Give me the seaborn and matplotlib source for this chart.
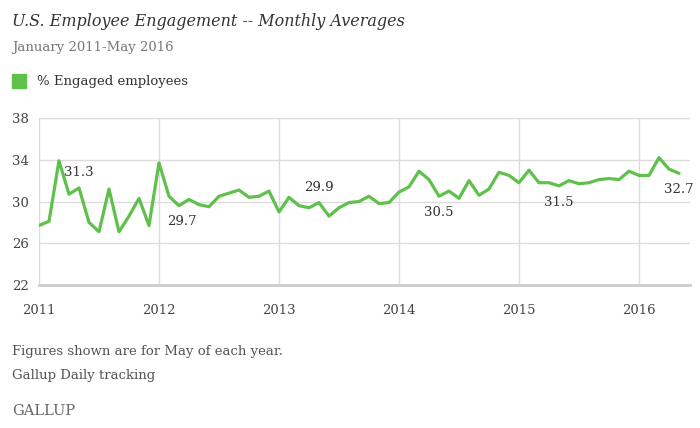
import matplotlib
matplotlib.use("Agg")
import matplotlib.pyplot as plt
import seaborn as sns
import pandas as pd

# ---- data ----
engaged = [
    27.7, 28.1, 33.9, 30.7, 31.3, 28.0, 27.1, 31.2, 27.1, 28.6, 30.3, 27.7,   # 2011
    33.7, 30.5, 29.6, 30.2, 29.7, 29.5, 30.5, 30.8, 31.1, 30.4, 30.5, 31.0,   # 2012
    29.0, 30.4, 29.6, 29.4, 29.9, 28.6, 29.4, 29.9, 30.0, 30.5, 29.8, 29.9,   # 2013
    30.9, 31.4, 32.9, 32.1, 30.5, 31.0, 30.3, 32.0, 30.6, 31.2, 32.8, 32.5,   # 2014
    31.8, 33.0, 31.8, 31.8, 31.5, 32.0, 31.7, 31.8, 32.1, 32.2, 32.1, 32.9,   # 2015
    32.5, 32.5, 34.2, 33.1, 32.7,                                             # 2016
]
month_index = list(range(len(engaged)))
year_labels = ["2011", "2012", "2013", "2014", "2015", "2016"]
year_positions = [0, 12, 24, 36, 48, 60]
y_ticks = [22, 26, 30, 34, 38]
may_labels = ["31.3", "29.7", "29.9", "30.5", "31.5", "32.7"]
may_index = [4, 16, 28, 40, 52, 64]

df = pd.DataFrame({"month": month_index, "engaged": engaged})

GREEN = "#5fc04c"
GRID = "#dcdcdc"

sns.set_theme(style="white")
plt.rcParams["font.family"] = ["DejaVu Serif"]

fig = plt.figure(figsize=(7.0, 4.28), dpi=100)
ax = fig.add_axes([0.0557, 0.3341, 0.9300, 0.3902])

sns.lineplot(data=df, x="month", y="engaged", ax=ax, color=GREEN,
             linewidth=2.3, legend=False)

ax.set_xlim(0, 65.1)
ax.set_ylim(22, 38)
ax.set_yticks(y_ticks)
ax.set_xticks(year_positions)
ax.set_xticklabels(year_labels)
ax.set_xlabel("")
ax.set_ylabel("")
ax.grid(True, color=GRID, linewidth=1.0)
ax.set_axisbelow(True)
for s in ["top", "right", "left"]:
    ax.spines[s].set_visible(False)
ax.spines["bottom"].set_color("#cccccc")
ax.spines["bottom"].set_linewidth(2.0)
ax.tick_params(axis="both", length=0, labelsize=9.5, colors="#444444")
ax.tick_params(axis="y", pad=7)
ax.tick_params(axis="x", pad=14)

offsets = [(0, 11), (-12, -12), (0, 11), (0, -12), (0, -12), (0, -12)]
for idx, lab, off in zip(may_index, may_labels, offsets):
    ax.annotate(lab, xy=(month_index[idx], engaged[idx]), xytext=off,
                textcoords="offset points", ha="center", va="center",
                fontsize=9.5, color="#333333")

# header
fig.text(12 / 700, 1 - 21 / 428, "U.S. Employee Engagement -- Monthly Averages",
         fontsize=11.5, style="italic", color="#333333", va="center", ha="left")
fig.text(12 / 700, 1 - 47 / 428, "January 2011-May 2016",
         fontsize=9.5, color="#777777", va="center", ha="left")
fig.patches.append(plt.Rectangle((12 / 700, 1 - 88 / 428), 14 / 700, 14 / 428,
                                 transform=fig.transFigure, color=GREEN,
                                 figure=fig))
fig.text(37 / 700, 1 - 81 / 428, "% Engaged employees",
         fontsize=9.5, color="#333333", va="center", ha="left")

# footer
fig.text(12 / 700, 1 - 352 / 428, "Figures shown are for May of each year.",
         fontsize=9.5, color="#555555", va="center", ha="left")
fig.text(12 / 700, 1 - 376 / 428, "Gallup Daily tracking",
         fontsize=9.5, color="#555555", va="center", ha="left")
fig.text(12 / 700, 1 - 411 / 428, "GALLUP",
         fontsize=10.5, color="#666666", va="center", ha="left")

fig.savefig("out.png", dpi=100)
